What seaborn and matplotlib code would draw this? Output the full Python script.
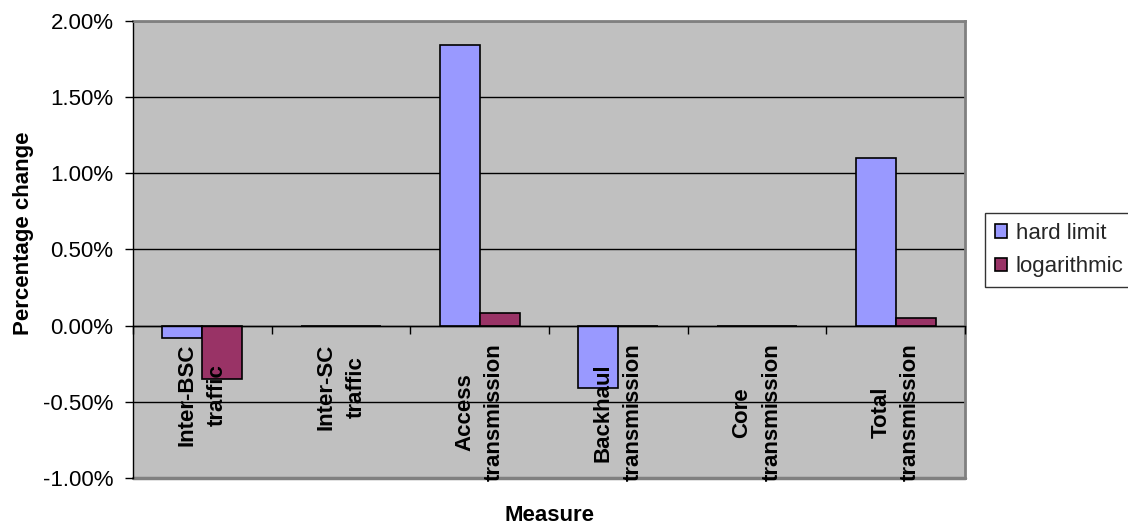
import numpy as np
import pandas as pd
import matplotlib
matplotlib.use("Agg")
import matplotlib.pyplot as plt
from matplotlib.ticker import FuncFormatter
import seaborn as sns

# Percentage change per measure for the two constraint models
categories = [
    "Inter-BSC\ntraffic",
    "Inter-SC\ntraffic",
    "Access\ntransmission",
    "Backhaul\ntransmission",
    "Core\ntransmission",
    "Total\ntransmission",
]
series_names = ["hard limit", "logarithmic"]
hard_limit = [-0.08, 0.0, 1.84, -0.41, 0.0, 1.10]
logarithmic = [-0.35, 0.0, 0.08, 0.0, 0.0, 0.05]
y_ticks = [-1.0, -0.5, 0.0, 0.5, 1.0, 1.5, 2.0]

df = pd.DataFrame({
    "Measure": categories * 2,
    "Series": [series_names[0]] * len(categories) + [series_names[1]] * len(categories),
    "Change": hard_limit + logarithmic,
})

sns.set_theme(style="white")
plt.rcParams["font.family"] = ["Liberation Sans", "DejaVu Sans"]

fig = plt.figure(figsize=(11.28, 5.27), dpi=100)
ax = fig.add_axes([0.1179, 0.0930, 0.7376, 0.8672])
ax.set_facecolor("#C0C0C0")

sns.barplot(
    data=df, x="Measure", y="Change", hue="Series",
    palette=["#9999FF", "#993366"], saturation=1,
    edgecolor="black", linewidth=1.2, width=0.577, gap=0,
    ax=ax,
)

# horizontal axis crosses at zero
ax.spines["bottom"].set_position(("data", 0))
ax.spines["bottom"].set_color("black")
ax.spines["bottom"].set_linewidth(1)
ax.spines["left"].set_color("black")
ax.spines["left"].set_linewidth(1)
for side in ("top", "right"):
    ax.spines[side].set_visible(True)
    ax.spines[side].set_color("#808080")
    ax.spines[side].set_linewidth(2)
ax.axhline(-1.0, color="#808080", lw=2.5, zorder=2.2, clip_on=False)

ax.set_ylim(-1.0, 2.0)
ax.set_xlim(-0.5, len(categories) - 0.5)
ax.set_yticks(y_ticks)
ax.yaxis.set_major_formatter(FuncFormatter(lambda v, _: f"{v:.2f}%"))
ax.tick_params(axis="y", which="major", direction="out", length=6, width=1,
               color="black", pad=8, labelsize=16, labelcolor="black", left=True)

# category boundaries carry tick marks, labels sit at the category centres
ax.set_xticks(np.arange(-0.5, len(categories), 1.0))
ax.set_xticklabels([""] * (len(categories) + 1))
ax.set_xticks(np.arange(len(categories)), minor=True)
ax.tick_params(axis="x", which="major", direction="out", length=6, width=1,
               color="black", bottom=True)
ax.tick_params(axis="x", which="minor", length=0, pad=13, labelcolor="black",
               labelsize=16, labelrotation=90, bottom=True)
ax.set_xticklabels(categories, minor=True, rotation=90, fontsize=16,
                   fontweight="bold", va="top", ha="center",
                   multialignment="center")
for lbl in ax.get_xticklabels(minor=True):
    lbl.set_linespacing(1.55)

# gridlines behind the bars, axis labels in front of them
ax.grid(False)
for yv in y_ticks:
    ax.axhline(yv, color="black", lw=1, zorder=0.8)
ax.set_axisbelow(False)

ax.set_xlabel("Measure", fontsize=16, fontweight="bold", color="black", va="center")
ax.xaxis.set_label_coords(0.501, -0.081)
ax.set_ylabel("Percentage change", fontsize=16, fontweight="bold", color="black",
              va="center")
ax.yaxis.set_label_coords(-0.131, 0.536)

handles, labels = ax.get_legend_handles_labels()
if ax.get_legend() is not None:
    ax.get_legend().remove()
leg = fig.legend(
    handles, labels, loc="upper left", bbox_to_anchor=(0.873, 0.596),
    fontsize=16, frameon=True, fancybox=False, shadow=False,
    handlelength=0.55, handleheight=0.55, handletextpad=0.4,
    labelspacing=0.55, borderpad=0.45, borderaxespad=0,
)
leg.get_frame().set_edgecolor("black")
leg.get_frame().set_linewidth(1)
leg.get_frame().set_facecolor("white")

fig.savefig("out.png", dpi=100, facecolor="white")
